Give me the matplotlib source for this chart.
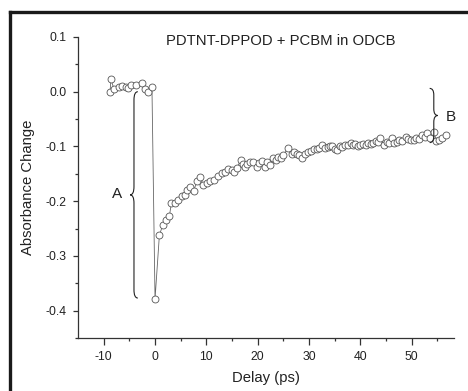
import numpy as np
import matplotlib
matplotlib.use("Agg")
from matplotlib import pyplot as plt
from matplotlib.path import Path
from matplotlib.patches import PathPatch
from matplotlib.lines import Line2D

plt.rcParams['font.family'] = ['Liberation Sans', 'DejaVu Sans']
plt.rcParams['axes.unicode_minus'] = False

# signal before time zero
t_pre = [-8.75, -8.6, -8.0, -7.1, -6.5, -5.7, -5.2, -4.7, -3.7, -2.6, -1.9, -1.3, -0.6]
a_pre = [0.0, 0.023, 0.005, 0.009, 0.011, 0.009, 0.007, 0.013, 0.012, 0.016, 0.004, -0.001, 0.009]

# bleach at zero and recovery
t_post = [0.0, 0.85, 1.5, 2.1, 2.8, 3.2, 3.9, 4.5, 5.2, 5.8, 6.3, 6.8, 7.5, 8.2, 8.8, 9.4,
          10.1, 10.7, 11.5, 12.3, 13.0, 13.6, 14.3, 14.9, 15.4, 15.9, 16.7, 17.1, 17.5,
          18.0, 18.5, 19.1, 19.9, 20.3, 20.8, 21.4, 21.9, 22.4, 23.0, 23.5, 24.0, 24.5,
          25.0, 25.9, 26.6, 27.1, 27.6, 28.1, 28.7, 29.2, 29.8, 30.3, 30.9, 31.5, 32.0,
          32.6, 33.1, 33.6, 34.0, 34.5, 35.0, 35.5, 36.0, 36.5, 37.0, 37.5, 38.1, 38.6,
          39.0, 39.5, 40.0, 40.5, 41.0, 41.5, 42.0, 42.5, 43.0, 43.4, 43.9, 44.6, 45.1,
          45.6, 46.2, 46.6, 47.1, 47.6, 48.2, 48.8, 49.3, 49.8, 50.4, 50.9, 51.4, 52.0,
          52.5, 53.0, 53.6, 54.3, 54.8, 55.3, 55.9, 56.6]
a_post = [-0.379, -0.262, -0.244, -0.235, -0.227, -0.203, -0.203, -0.197, -0.191, -0.188,
          -0.180, -0.174, -0.181, -0.164, -0.155, -0.171, -0.166, -0.164, -0.161, -0.154,
          -0.149, -0.146, -0.142, -0.143, -0.146, -0.140, -0.125, -0.133, -0.137, -0.132,
          -0.128, -0.128, -0.137, -0.130, -0.126, -0.137, -0.128, -0.134, -0.122, -0.124,
          -0.119, -0.121, -0.116, -0.103, -0.114, -0.110, -0.114, -0.116, -0.122, -0.113,
          -0.110, -0.108, -0.105, -0.104, -0.102, -0.097, -0.103, -0.101, -0.099, -0.100,
          -0.104, -0.107, -0.099, -0.101, -0.097, -0.098, -0.094, -0.098, -0.096, -0.099,
          -0.097, -0.095, -0.098, -0.094, -0.096, -0.093, -0.090, -0.092, -0.085, -0.097,
          -0.092, -0.094, -0.085, -0.093, -0.091, -0.088, -0.090, -0.082, -0.086, -0.089,
          -0.088, -0.084, -0.086, -0.079, -0.083, -0.075, -0.084, -0.073, -0.090, -0.088,
          -0.085, -0.079]

x_ticks = [-10, 0, 10, 20, 30, 40, 50]
y_ticks = [-0.4, -0.3, -0.2, -0.1, 0.0, 0.1]

t = np.array(t_pre + t_post)
a = np.array(a_pre + a_post)

ink = '#333333'

fig = plt.figure(figsize=(4.68, 3.91), dpi=100)
ax = fig.add_axes([0.1667, 0.1355, 0.803, 0.77])

ax.plot(t, a, '-', color='#666666', lw=0.6, zorder=2)
ax.plot(t, a, 'o', ms=5.0, mfc='white', mec='#555555', mew=0.6, zorder=3)


def brace(x, y0, y1, d, r, side):
    # vertical curly brace, tip points to side (-1 left, +1 right)
    ym = (y0 + y1) / 2
    xe = x - side * d
    xt = x + side * d
    verts = [(xe, y0), (x, y0), (x, y0 - r),
             (x, ym + r), (x, ym), (xt, ym),
             (x, ym), (x, ym - r),
             (x, y1 + r), (x, y1), (xe, y1)]
    codes = [Path.MOVETO, Path.CURVE3, Path.CURVE3,
             Path.LINETO, Path.CURVE3, Path.CURVE3,
             Path.CURVE3, Path.CURVE3,
             Path.LINETO, Path.CURVE3, Path.CURVE3]
    ax.add_patch(PathPatch(Path(verts, codes), fc='none', ec='#222222', lw=0.8,
                           clip_on=False, zorder=4))


brace(-4.1, 0.0, -0.377, 0.75, 0.015, -1)
ax.text(-7.4, -0.186, 'A', ha='center', va='center', fontsize=11, color='#222222')
brace(54.3, 0.006, -0.093, 0.8, 0.012, 1)
ax.text(56.6, -0.046, 'B', ha='left', va='center', fontsize=11, color='#222222',
        clip_on=False)

ax.text(0.54, 0.985, 'PDTNT-DPPOD + PCBM in ODCB', transform=ax.transAxes,
        ha='center', va='center', fontsize=10.7, color='#222222')

ax.set_xlim(-15, 58.2)
ax.set_ylim(-0.45, 0.1)
ax.set_xticks(x_ticks)
ax.set_xticks(np.arange(-5, 58, 10), minor=True)
ax.set_yticks(y_ticks)
ax.set_yticks(np.arange(-0.45, 0.1, 0.1), minor=True)
ax.set_yticklabels(['%.1f' % v for v in y_ticks])

for s in ['top', 'right']:
    ax.spines[s].set_visible(False)
for s in ['left', 'bottom']:
    ax.spines[s].set_color(ink)
    ax.spines[s].set_linewidth(0.9)
ax.spines['left'].set_bounds(-0.45, 0.1)

ax.tick_params(axis='x', which='major', length=5, width=0.9, color=ink, pad=4,
               labelsize=8.8, labelcolor='#222222')
ax.tick_params(axis='y', which='major', length=3.5, width=0.9, color=ink, pad=5,
               labelsize=8.8, labelcolor='#222222')
ax.tick_params(which='minor', length=2.5, width=0.9, color=ink)

ax.set_xlabel('Delay (ps)', fontsize=10.7, color='#222222', labelpad=6)
ax.set_ylabel('Absorbance Change', fontsize=10.7, color='#222222', labelpad=7)

# frame around figure (top and left edges)
fig.add_artist(Line2D([0.021, 1.0], [0.969, 0.969], transform=fig.transFigure,
                      color='#1a1a1a', lw=2.4))
fig.add_artist(Line2D([0.021, 0.021], [0.969, 0.0], transform=fig.transFigure,
                      color='#1a1a1a', lw=2.4))

fig.savefig('out.png', dpi=100)
